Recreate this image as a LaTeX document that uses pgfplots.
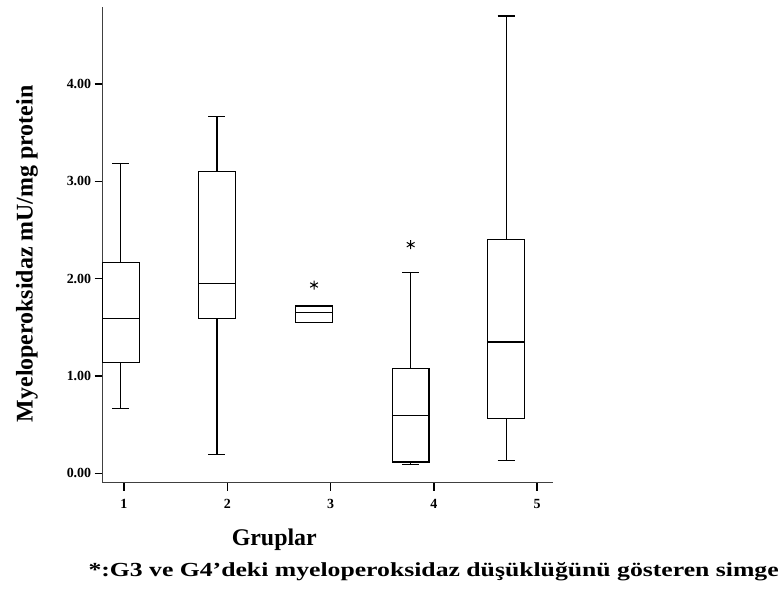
\documentclass[border=0pt]{standalone}
\usepackage{fontspec}
\setmainfont{Liberation Serif}
\usepackage{pgfplots}
\pgfplotsset{compat=1.18}
\usepgfplotslibrary{statistics}
\begin{document}
\begin{tikzpicture}
\useasboundingbox (0,0) rectangle (782bp,-599bp);
\begin{axis}[
  at={(102.7bp,-482.7bp)}, anchor=south west,
  scale only axis, width=450.3bp, height=475.7bp,
  xmin=0.794, xmax=5.153, ymin=-0.0966, ymax=4.792,
  axis lines=left, axis line style={black!75, line width=1bp, -},
  xtick={1,2,3,4,5}, xticklabels={1,2,3,4,5},
  ytick={0,1,2,3,4}, yticklabels={0.00,1.00,2.00,3.00,4.00},
  tick align=outside, major tick length=8bp,
  tick style={black, line width=1.5bp},
  ticklabel style={font=\fontsize{14}{14}\selectfont\bfseries},
  xticklabel style={yshift=-5bp},
  ylabel={Myeloperoksidaz mU/mg protein},
  ylabel style={font=\fontsize{24}{26}\selectfont\bfseries, at={(axis description cs:-0.168,0.481)}, anchor=center},
  xlabel={Gruplar},
  xlabel style={font=\fontsize{24}{26}\selectfont\bfseries, at={(axis description cs:0.381,-0.132)}, anchor=base},
  clip=false,
  boxplot/draw direction=y,
  boxplot/box extend=0.355, boxplot/whisker extend=0.165,
]
\addplot[black, line width=1.2bp, mark=asterisk, mark size=4.5bp, boxplot prepared={draw position=0.97, lower whisker=0.67, lower quartile=1.14, median=1.59, upper quartile=2.17, upper whisker=3.18}] coordinates {};
\addplot[black, line width=1.2bp, mark=asterisk, mark size=4.5bp, boxplot prepared={draw position=1.90, lower whisker=0.195, lower quartile=1.59, median=1.95, upper quartile=3.10, upper whisker=3.67}] coordinates {};
\addplot[black, line width=1.2bp, mark=asterisk, mark size=4.5bp, mark options={line width=1bp}, boxplot prepared={draw position=2.84, lower whisker=1.55, lower quartile=1.55, median=1.655, upper quartile=1.72, upper whisker=1.72}] coordinates {(0,1.935)};
\addplot[black, line width=1.2bp, mark=asterisk, mark size=4.5bp, mark options={line width=1bp}, boxplot prepared={draw position=3.775, lower whisker=0.09, lower quartile=0.116, median=0.59, upper quartile=1.08, upper whisker=2.065}] coordinates {(0,2.35)};
\addplot[black, line width=1.2bp, mark=asterisk, mark size=4.5bp, boxplot prepared={draw position=4.70, lower whisker=0.134, lower quartile=0.565, median=1.35, upper quartile=2.40, upper whisker=4.70}] coordinates {};
\end{axis}
\node[anchor=base west, font=\fontsize{20}{22}\selectfont\bfseries, inner sep=0pt] at (88.3bp,-576.7bp) {\scalebox{1.29}[1]{*:G3 ve G4'deki myeloperoksidaz düşüklüğünü gösteren simge}};
\end{tikzpicture}
\end{document}
